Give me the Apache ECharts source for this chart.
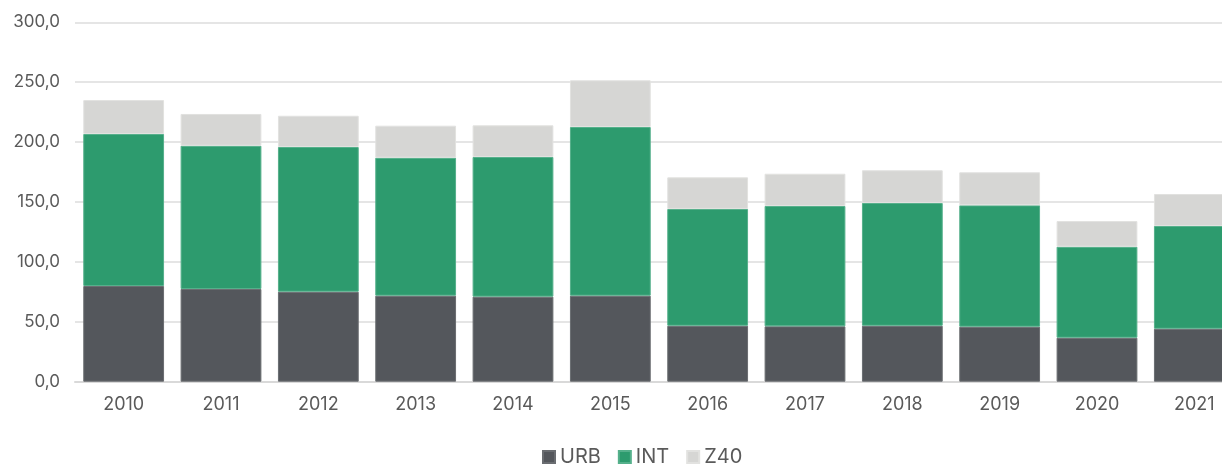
<!DOCTYPE html>
<html>
<head>
<meta charset="utf-8">
<script src="https://cdn.jsdelivr.net/npm/echarts@6/dist/echarts.min.js"></script>
<style>
html,body{margin:0;padding:0;background:#fff;overflow:hidden;width:1222px;height:465px;}
#c{width:1243px;height:465px;}
</style>
</head>
<body>
<div id="c"></div>
<script>
const categories = ['2010','2011','2012','2013','2014','2015','2016','2017','2018','2019','2020','2021'];
const urb = [79.9, 77.4, 75.1, 71.8, 71.0, 71.8, 46.7, 46.2, 46.7, 45.9, 36.7, 44.2];
const int = [126.9, 119.6, 120.8, 115.2, 116.6, 140.8, 97.5, 100.5, 102.5, 101.3, 76.0, 85.8];
const z40 = [28.3, 26.5, 26.1, 26.7, 26.4, 39.0, 26.4, 26.9, 27.3, 27.6, 21.4, 26.7];
const yTicks = { min: 0, max: 300, interval: 50 };

const font = 'Inter, "Liberation Sans", sans-serif';
const textColor = '#5a5a5a';
const chart = echarts.init(document.getElementById('c'), null, { renderer: 'canvas' });

function mk(name, data, color, border) {
  return {
    name: name, type: 'bar', stack: 'total', data: data,
    barCategoryGap: '17%',
    itemStyle: { color: color, borderColor: border, borderWidth: 1 },
    emphasis: { disabled: true }
  };
}

chart.setOption({
  animation: false,
  textStyle: { fontFamily: font },
  grid: { left: 75, right: 0, top: 22.3, bottom: 83.3, containLabel: false },
  legend: {
    top: 442, left: 537,
    itemWidth: 12, itemHeight: 12, itemGap: 17,
    icon: 'rect',
    textStyle: { color: textColor, fontSize: 20, fontFamily: font },
    data: ['URB', 'INT', 'Z40']
  },
  xAxis: {
    type: 'category', data: categories,
    axisLine: { show: true, lineStyle: { color: '#d9d9d9', width: 2 } },
    axisTick: { show: false },
    axisLabel: { color: textColor, fontSize: 18, margin: 14, fontFamily: font }
  },
  yAxis: {
    type: 'value', min: yTicks.min, max: yTicks.max, interval: yTicks.interval,
    axisLine: { show: false }, axisTick: { show: false },
    splitLine: { lineStyle: { color: '#dddddd', width: 1.5 } },
    axisLabel: {
      color: textColor, fontSize: 17, margin: 15, fontFamily: font,
      formatter: v => v.toFixed(1).replace('.', ',')
    }
  },
  series: [
    mk('URB', urb, '#54575c', '#6a6d71'),
    mk('INT', int, '#2d9b6e', '#55b08b'),
    mk('Z40', z40, '#d6d6d4', '#e2e2e0')
  ]
});
</script>
</body>
</html>
